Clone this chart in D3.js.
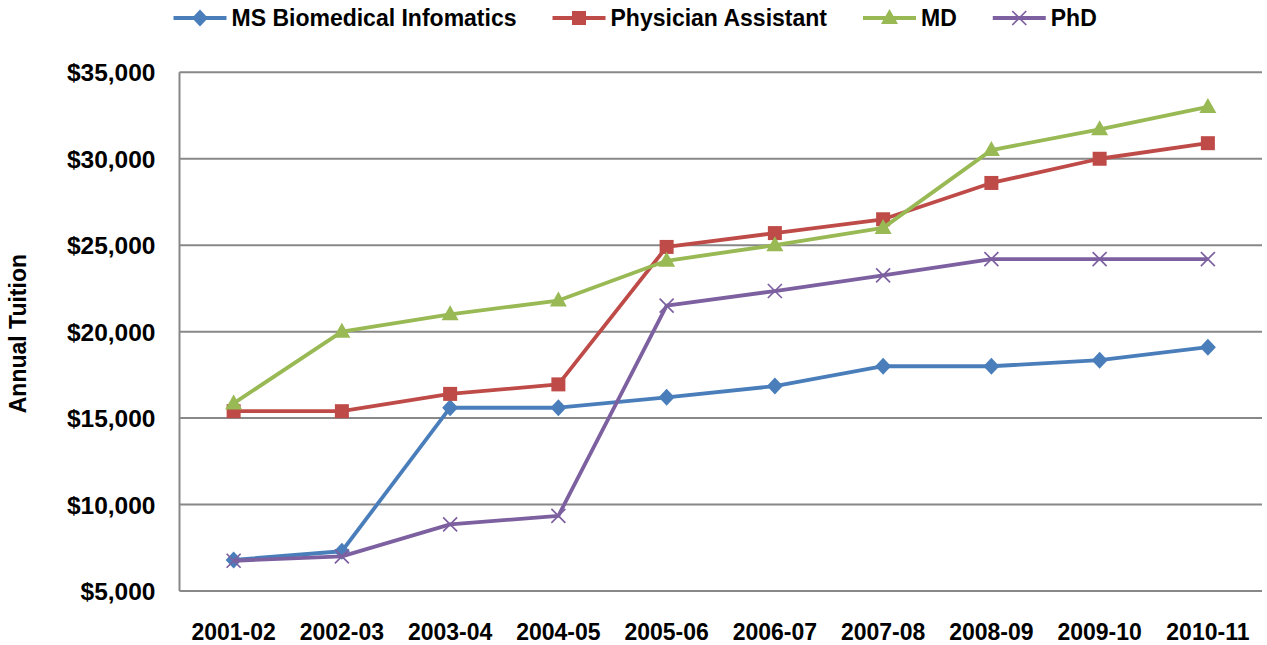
<!DOCTYPE html>
<html>
<head>
<meta charset="utf-8">
<script src="https://cdn.jsdelivr.net/npm/d3@7"></script>
<style>
  html, body { margin: 0; padding: 0; background: #fff; }
  svg { display: block; }
  text { font-family: "Liberation Sans", Arial, sans-serif; font-weight: bold; fill: #000; }
</style>
</head>
<body>
<svg id="chart" width="1267" height="645"></svg>
<script>
const categories = ["2001-02","2002-03","2003-04","2004-05","2005-06","2006-07","2007-08","2008-09","2009-10","2010-11"];
const seriesNames = ["MS Biomedical Infomatics","Physician Assistant","MD","PhD"];
const msBiomedical = [6800, 7300, 15600, 15600, 16200, 16850, 18000, 18000, 18350, 19100];
const physicianAssistant = [15400, 15400, 16400, 16950, 24900, 25700, 26500, 28600, 30000, 30900];
const md = [15850, 20000, 21000, 21800, 24100, 25000, 26000, 30500, 31700, 33000];
const phd = [6750, 7000, 8850, 9350, 21500, 22350, 23250, 24200, 24200, 24200];
const yTicks = [5000, 10000, 15000, 20000, 25000, 30000, 35000];
const colors = ["#4A7EBB", "#BE4B48", "#98B954", "#7D60A0"];
const markers = ["diamond", "square", "triangle", "cross"];

const series = [msBiomedical, physicianAssistant, md, phd].map((vals, i) => ({
  name: seriesNames[i], values: vals, color: colors[i], marker: markers[i]
}));

const svg = d3.select("#chart");
const plot = { left: 179.5, right: 1262, top: 72.3, bottom: 591 };

const x = d3.scaleBand().domain(categories).range([plot.left, plot.right]).paddingInner(0).paddingOuter(0);
const y = d3.scaleLinear().domain([5000, 35000]).range([plot.bottom, plot.top]);
const cx = c => x(c) + x.bandwidth() / 2;

// gridlines
svg.append("g").selectAll("line").data(yTicks).join("line")
  .attr("x1", plot.left).attr("x2", plot.right)
  .attr("y1", d => y(d)).attr("y2", d => y(d))
  .attr("stroke", "#888888").attr("stroke-width", 2);

// y axis line
svg.append("line").attr("x1", plot.left).attr("x2", plot.left)
  .attr("y1", plot.top).attr("y2", plot.bottom)
  .attr("stroke", "#888888").attr("stroke-width", 2);

// y axis labels
const fmt = d3.format("$,.0f");
const yAxis = d3.axisLeft(y).tickValues(yTicks).tickFormat(fmt).tickSize(0).tickPadding(24);
const yg = svg.append("g").attr("transform", `translate(${plot.left},0)`).call(yAxis);
yg.select(".domain").remove();
yg.selectAll("text").style("font-size", "24.5px").style("font-family", '"Liberation Sans", Arial, sans-serif')
  .style("font-weight", "bold").attr("fill", "#000").attr("dy", "0.35em");

// x axis labels
const xAxis = d3.axisBottom(x).tickSize(0).tickPadding(33);
const xg = svg.append("g").attr("transform", `translate(0,${plot.bottom})`).call(xAxis);
xg.select(".domain").remove();
xg.selectAll("text").style("font-size", "23px").style("font-family", '"Liberation Sans", Arial, sans-serif')
  .style("font-weight", "bold").attr("fill", "#000");

// y axis title
svg.append("text").attr("transform", `translate(26,${(plot.top + plot.bottom) / 2 + 2}) rotate(-90)`)
  .attr("text-anchor", "middle").style("font-size", "23px").text("Annual Tuition");

function drawMarker(g, type, color, px, py) {
  if (type === "diamond") {
    g.append("path").attr("d", `M${px},${py-8.5}L${px+8},${py}L${px},${py+8.5}L${px-8},${py}Z`).attr("fill", color);
  } else if (type === "square") {
    g.append("rect").attr("x", px - 7).attr("y", py - 7).attr("width", 14).attr("height", 14).attr("fill", color);
  } else if (type === "triangle") {
    g.append("path").attr("d", `M${px},${py-9}L${px+8.5},${py+6}L${px-8.5},${py+6}Z`).attr("fill", color);
  } else {
    g.append("path").attr("d", `M${px-7},${py-7}L${px+7},${py+7}M${px-7},${py+7}L${px+7},${py-7}`)
      .attr("stroke", color).attr("stroke-width", 1.7).attr("fill", "none");
  }
}

const line = d3.line().x((d, i) => cx(categories[i])).y(d => y(d));
series.forEach(s => {
  const g = svg.append("g");
  g.append("path").datum(s.values).attr("d", line)
    .attr("fill", "none").attr("stroke", s.color).attr("stroke-width", 3.8).attr("stroke-linejoin", "round");
  s.values.forEach((v, i) => drawMarker(g, s.marker, s.color, cx(categories[i]), y(v)));
});

// legend
const legend = svg.append("g");
let lx = 173.5;
const ly = 18;
series.forEach(s => {
  const g = legend.append("g");
  g.append("line").attr("x1", lx).attr("x2", lx + 53).attr("y1", ly).attr("y2", ly)
    .attr("stroke", s.color).attr("stroke-width", 3.8);
  drawMarker(g, s.marker, s.color, lx + 26.5, ly);
  const t = g.append("text").attr("x", lx + 58).attr("y", ly).attr("dy", "0.36em")
    .style("font-size", "23px").text(s.name);
  lx += 58 + t.node().getComputedTextLength() + 36;
});
</script>
</body>
</html>
